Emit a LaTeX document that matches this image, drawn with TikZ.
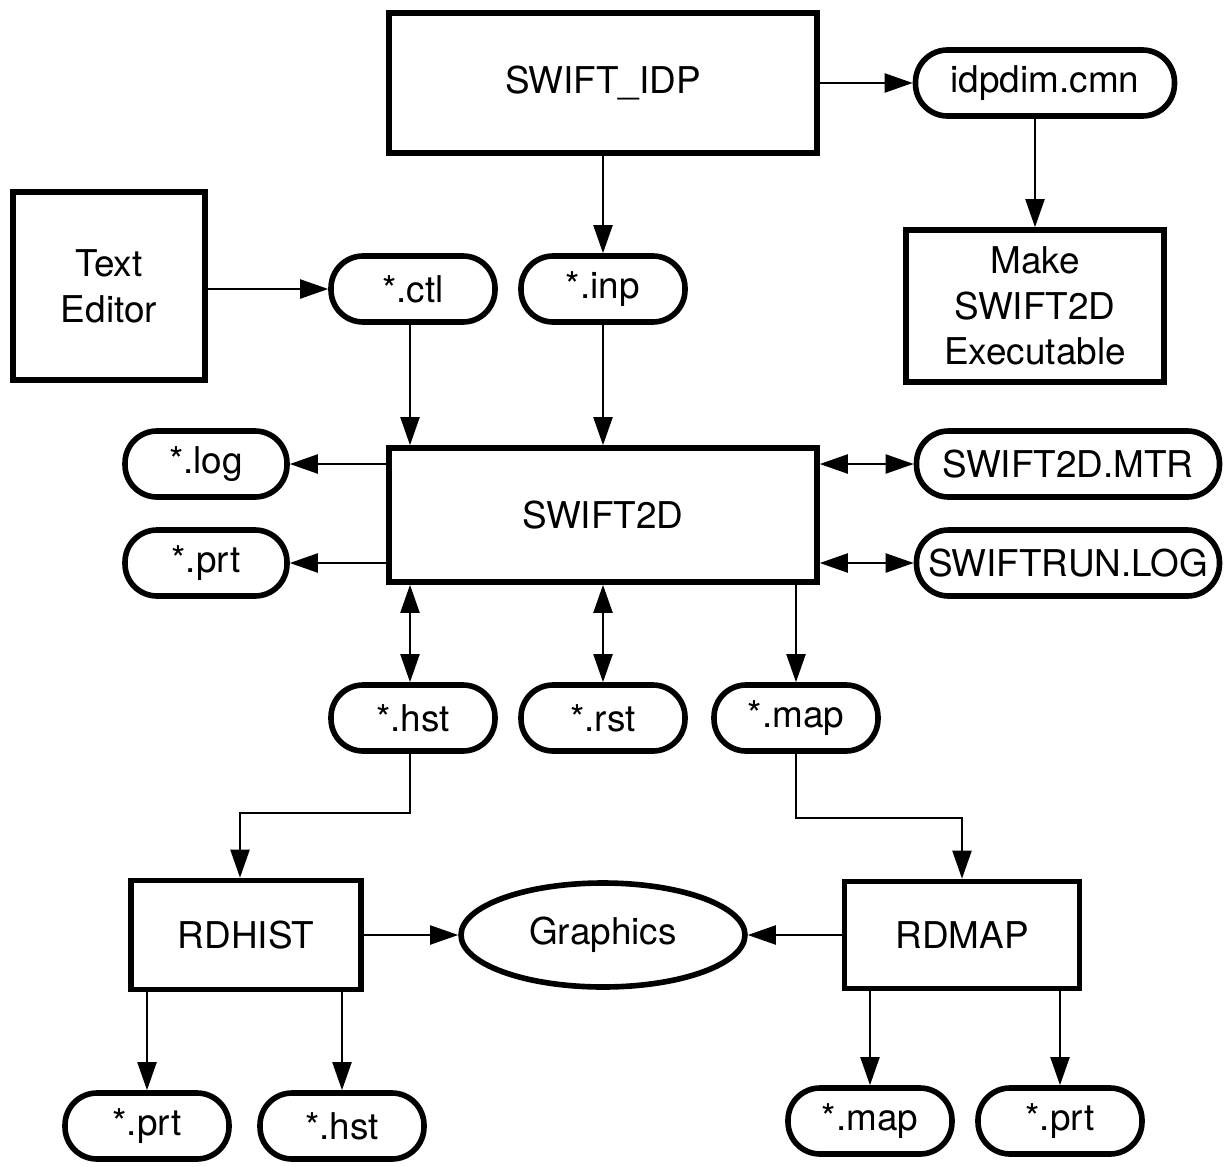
\documentclass[tikz,border=0pt]{standalone}
\usepackage{fontspec}
\setmainfont{TeX Gyre Heros}
\usetikzlibrary{arrows.meta, shapes.geometric}

\begin{document}
\begin{tikzpicture}[x=0.02cm, y=-0.02cm,
    font=\fontsize{21}{26}\selectfont,
    box/.style={draw, line width=3.2pt, inner sep=0pt, align=center},
    pill/.style={draw, line width=3.2pt, inner sep=0pt, rounded corners=0.64cm,
        minimum height=1.32cm, minimum width=3.28cm},
    link/.style={line width=1.2pt, -{Triangle[length=0.56cm, width=0.38cm]}},
    twoway/.style={line width=1.2pt, {Triangle[length=0.56cm, width=0.38cm]}-{Triangle[length=0.56cm, width=0.38cm]}}]
    \useasboundingbox (0,0) rectangle (1225,1167);

    % Preprocessor
    \node[box, minimum width=8.56cm, minimum height=2.80cm] (idp) at (603, 83) {SWIFT\_IDP};
    \node[pill, minimum width=5.18cm] (cmn) at (1045, 83) {idpdim.cmn};
    \node[box, minimum width=5.16cm, minimum height=3.04cm] (make) at (1035, 306) {Make\\SWIFT2D\\Executable};

    % Inputs
    \node[box, minimum width=3.84cm, minimum height=3.76cm] (editor) at (109, 286) {Text\\Editor};
    \node[pill] (ctl) at (413, 289) {*.ctl};
    \node[pill] (inp) at (603, 289) {*.inp};

    % Simulation
    \node[box, minimum width=8.56cm, minimum height=2.68cm] (swift) at (603, 515) {SWIFT2D};
    \node[pill, minimum width=3.24cm] (log) at (206, 464) {*.log};
    \node[pill, minimum width=3.24cm] (prt) at (206, 563) {*.prt};
    \node[pill, minimum width=6.06cm] (mtr) at (1068, 464) {SWIFT2D.MTR};
    \node[pill, minimum width=6.06cm] (run) at (1068, 563) {SWIFTRUN.LOG};
    \node[pill] (hst) at (413, 718) {*.hst};
    \node[pill] (rst) at (603, 718) {*.rst};
    \node[pill] (map) at (796, 718) {*.map};

    % Postprocessing
    \node[box, minimum width=4.60cm, minimum height=2.18cm] (rdhist) at (246, 935) {RDHIST};
    \node[draw, ellipse, line width=3.2pt, inner sep=0pt, minimum width=5.68cm, minimum height=2.08cm] (gfx) at (603, 935) {Graphics};
    \node[box, minimum width=4.70cm, minimum height=2.14cm] (rdmap) at (962, 935) {RDMAP};
    \node[pill] (hprt) at (147, 1126) {*.prt};
    \node[pill] (hhst) at (342, 1126) {*.hst};
    \node[pill] (mmap) at (870, 1121) {*.map};
    \node[pill] (mprt) at (1060, 1121) {*.prt};

    \draw[link] (idp.east) -- (cmn.west);
    \draw[link] (cmn.south -| make.north) -- (make.north);
    \draw[link] (idp.south) -- (inp.north);
    \draw[link] (editor.east |- ctl) -- (ctl.west);
    \draw[link] ([xshift=-0.06cm]ctl.south) -- ([xshift=-0.06cm]ctl.south |- swift.north);
    \draw[link] (inp.south) -- (inp.south |- swift.north);
    \draw[link] (swift.west |- log) -- (log.east);
    \draw[link] (swift.west |- prt) -- (prt.east);
    \draw[twoway] (swift.east |- mtr) -- (mtr.west);
    \draw[twoway] (swift.east |- run) -- (run.west);
    \draw[twoway] ([xshift=-0.06cm]swift.south -| hst) -- ([xshift=-0.06cm]hst.north);
    \draw[twoway] (swift.south) -- (rst.north);
    \draw[link] (swift.south -| map) -- (map.north);
    \draw[link] ([xshift=-0.06cm]hst.south) -- ++(0, 59) -| ([xshift=-0.12cm]rdhist.north);
    \draw[link] (map.south) -- ++(0, 64) -| (rdmap.north);
    \draw[link] (rdhist.east) -- (gfx.west);
    \draw[link] (rdmap.west) -- (gfx.east);
    \draw[link] (rdhist.south -| hprt) -- (hprt.north);
    \draw[link] (rdhist.south -| hhst) -- (hhst.north);
    \draw[link] (rdmap.south -| mmap) -- (mmap.north);
    \draw[link] (rdmap.south -| mprt) -- (mprt.north);
\end{tikzpicture}
\end{document}
